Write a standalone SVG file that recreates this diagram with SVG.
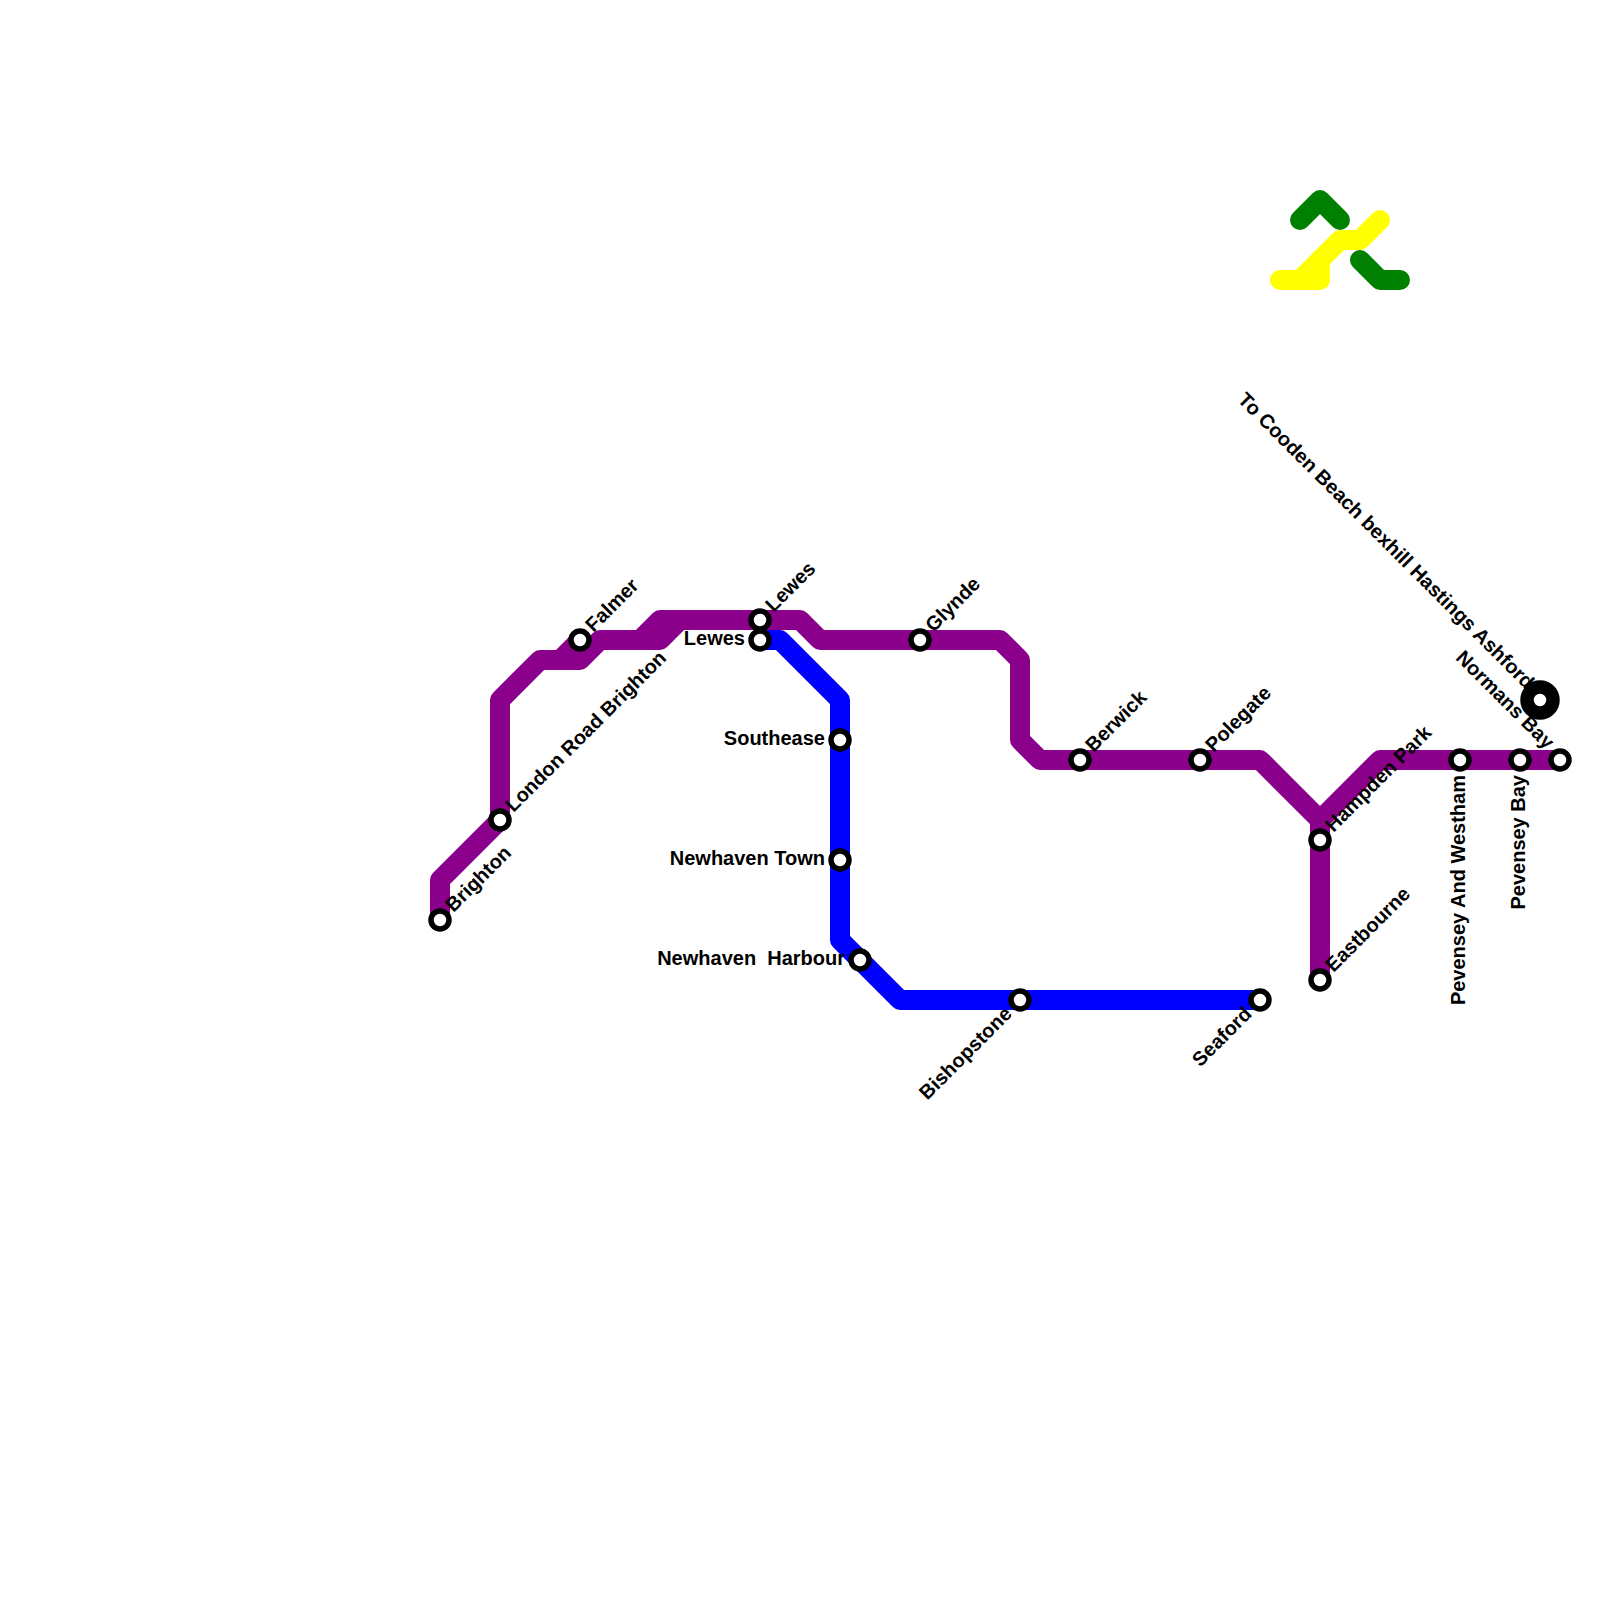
<svg xmlns="http://www.w3.org/2000/svg" width="1600" height="1600" viewBox="0 0 1600 1600">
<style>
.l{fill:none;stroke-width:20;stroke-linejoin:round;stroke-linecap:butt}
.c{stroke-linecap:round}
.p{stroke:#8b008b}.b{stroke:#0000ff}.g{stroke:#008000}.y{stroke:#ffff00}
.s{fill:#fff;stroke:#000;stroke-width:5.5}
.big{fill:#fff;stroke:#000;stroke-width:13.5}
text{font-family:"Liberation Sans",Arial,sans-serif;font-weight:700;font-size:20px;fill:#000;white-space:pre}
.e{text-anchor:end}
</style>
<rect width="1600" height="1600" fill="#fff"/>
<g id="connectors">
<path class="l g c" d="M1300 220L1320 200L1340 220"/>
<path class="l g c" d="M1360 260L1380 280H1400"/>
<path class="l y c" d="M1280 280H1320V260L1340 240H1360L1380 220"/>
<path class="l y c" d="M1300 280L1320 260"/>
<path class="l b" d="M760 640H780L840 700V940L900 1000H1260"/>
<path class="l p" d="M440 920V880L500 820V700L540 660H580L600 640H660L680 620"/>
<path class="l p" d="M560 660L580 640"/>
<path class="l p" d="M640 640L660 620H800L820 640H1000L1020 660V740L1040 760H1260L1320 820V980"/>
<path class="l p" d="M1320 820L1380 760H1560"/>
</g>
<g id="brighton"><circle class="s" cx="440" cy="920" r="9"/><text transform="translate(453.500 913) rotate(-45)">Brighton</text></g>
<g id="london-road"><circle class="s" cx="500" cy="820" r="9"/><text transform="translate(513.500 813) rotate(-45)">London Road Brighton</text></g>
<g id="falmer"><circle class="s" cx="580" cy="640" r="9"/><text transform="translate(593.500 633) rotate(-45)">Falmer</text></g>
<g id="lewes-a"><circle class="s" cx="760" cy="620" r="9"/><text transform="translate(773.500 613) rotate(-45)">Lewes</text></g>
<g id="lewes-b"><circle class="s" cx="760" cy="640" r="9"/><text class="e" x="745" y="645">Lewes</text></g>
<g id="southease"><circle class="s" cx="840" cy="740" r="9"/><text class="e" x="825" y="745">Southease</text></g>
<g id="newhaven-town"><circle class="s" cx="840" cy="860" r="9"/><text class="e" x="825" y="865">Newhaven Town</text></g>
<g id="newhaven-harbour"><circle class="s" cx="860" cy="960" r="9"/><text class="e" x="845" y="965">Newhaven  Harbour</text></g>
<g id="bishopstone"><circle class="s" cx="1020" cy="1000" r="9"/><text class="e" transform="translate(1013 1015) rotate(-45)">Bishopstone</text></g>
<g id="seaford"><circle class="s" cx="1260" cy="1000" r="9"/><text class="e" transform="translate(1253 1015) rotate(-45)">Seaford</text></g>
<g id="glynde"><circle class="s" cx="920" cy="640" r="9"/><text transform="translate(933.500 633) rotate(-45)">Glynde</text></g>
<g id="berwick"><circle class="s" cx="1080" cy="760" r="9"/><text transform="translate(1093.500 753) rotate(-45)">Berwick</text></g>
<g id="polegate"><circle class="s" cx="1200" cy="760" r="9"/><text transform="translate(1213.500 753) rotate(-45)">Polegate</text></g>
<g id="hampden-park"><circle class="s" cx="1320" cy="840" r="9"/><text transform="translate(1333.500 833) rotate(-45)">Hampden Park</text></g>
<g id="eastbourne"><circle class="s" cx="1320" cy="980" r="9"/><text transform="translate(1333.500 973) rotate(-45)">Eastbourne</text></g>
<g id="pevensey-westham"><circle class="s" cx="1460" cy="760" r="9"/><text class="e" transform="translate(1465 775) rotate(-90)">Pevensey And Westham</text></g>
<g id="pevensey-bay"><circle class="s" cx="1520" cy="760" r="9"/><text class="e" transform="translate(1525 775) rotate(-90)">Pevensey Bay</text></g>
<g id="normans-bay"><circle class="s" cx="1560" cy="760" r="9"/><text class="e" transform="translate(1546 750) rotate(45)">Normans Bay</text></g>
<g id="to-cooden"><circle class="big" cx="1540" cy="700" r="13"/><text class="e" transform="translate(1526 690) rotate(45)">To Cooden Beach bexhill Hastings Ashford</text></g>
</svg>
